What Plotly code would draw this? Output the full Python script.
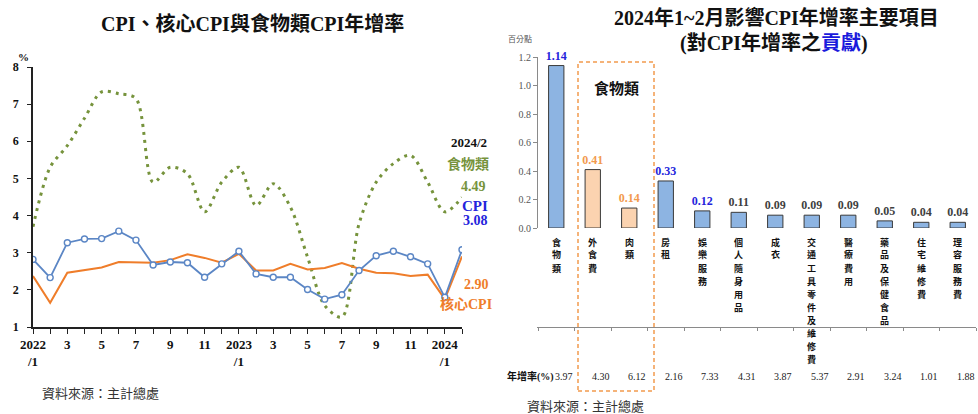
import plotly.graph_objects as go

W, H = 978, 414
SERIF = "Liberation Serif, Noto Sans CJK TC, serif"
CJK = "Noto Sans CJK TC, sans-serif"

# ---------------- Left chart data ----------------
month_idx = list(range(26))  # 2022/1 .. 2024/2
tick_pos = [0, 2, 4, 6, 8, 10, 12, 14, 16, 18, 20, 22, 24]
tick_lbl = ["2022<br>/1", "3", "5", "7", "9", "11", "2023<br>/1", "3", "5", "7", "9", "11", "2024<br>/1"]
cpi = [2.82, 2.33, 3.27, 3.37, 3.38, 3.58, 3.34, 2.67, 2.75, 2.73, 2.34, 2.70,
       3.04, 2.43, 2.34, 2.34, 2.01, 1.75, 1.87, 2.52, 2.92, 3.04, 2.89, 2.70,
       1.80, 3.08]
core = [2.37, 1.65, 2.46, 2.53, 2.60, 2.75, 2.73, 2.73, 2.80, 2.96, 2.86, 2.73,
        2.97, 2.52, 2.52, 2.70, 2.55, 2.59, 2.72, 2.57, 2.46, 2.45, 2.37, 2.41,
        1.75, 2.90]
food = [3.70, 5.30, 5.88, 6.62, 7.33, 7.28, 7.15, 4.90, 5.30, 5.13, 4.10, 4.90,
        5.30, 4.27, 4.86, 4.23, 2.88, 1.58, 1.27, 3.78, 4.90, 5.40, 5.62, 4.90,
        4.10, 4.49]

# ---------------- Right chart data ----------------
items = ["食物類", "外食費", "肉類", "房租", "娛樂服務", "個人隨身用品", "成衣",
         "交通工具零件及維修費", "醫療費用", "藥品及保健食品", "住宅維修費", "理容服務費"]
contrib = [1.14, 0.41, 0.14, 0.33, 0.12, 0.11, 0.09, 0.09, 0.09, 0.05, 0.04, 0.04]
growth = ["3.97", "4.30", "6.12", "2.16", "7.33", "4.31", "3.87", "5.37", "2.91", "3.24", "1.01", "1.88"]
in_food_group = [False, True, True, False, False, False, False, False, False, False, False, False]
label_col = ["#2424DC", "#F29A4E", "#F29A4E", "#2424DC", "#2424DC", "#404040", "#404040",
             "#404040", "#404040", "#404040", "#404040", "#404040"]

BLUE_LINE = "#5B86C5"
ORANGE = "#EF7D2A"
GREEN = "#76933C"
TXT_BLUE = "#2424DC"


def py(px):
    return 1 - px / H


def px_(x):
    return x / W


fig = go.Figure()

fig.add_trace(go.Scatter(x=month_idx, y=food, mode="lines",
                         line=dict(color=GREEN, width=3, dash="3px,5px", shape="spline", smoothing=0.9),
                         xaxis="x", yaxis="y", hoverinfo="skip"))
fig.add_trace(go.Scatter(x=month_idx, y=core, mode="lines",
                         line=dict(color=ORANGE, width=2),
                         xaxis="x", yaxis="y", hoverinfo="skip"))
fig.add_trace(go.Scatter(x=month_idx, y=cpi, mode="lines+markers",
                         line=dict(color=BLUE_LINE, width=1.8),
                         marker=dict(symbol="circle", size=6, color="white",
                                     line=dict(color=BLUE_LINE, width=1.4)),
                         xaxis="x", yaxis="y", hoverinfo="skip"))

bar_fill = ["#FBD3B0" if f else "#8DB4E2" for f in in_food_group]
fig.add_trace(go.Bar(x=items, y=contrib, xaxis="x2", yaxis="y2",
                     marker=dict(color=bar_fill, line=dict(color="#3A3A3A", width=1)),
                     width=0.42,
                     text=[f"{v:.2f}" for v in contrib], textposition="outside",
                     constraintext="none",
                     textfont=dict(family=SERIF, size=12, color=label_col, weight="bold"),
                     cliponaxis=False, hoverinfo="skip"))

fig.update_layout(
    width=W, height=H, margin=dict(l=0, r=0, t=0, b=0, pad=0),
    paper_bgcolor="white", plot_bgcolor="white", showlegend=False,
    xaxis=dict(domain=[px_(33), px_(462)], range=[0, 25], showgrid=False, zeroline=False,
               automargin=False,
               showline=True, linecolor="#222", linewidth=1.5,
               tickmode="array", tickvals=tick_pos, ticktext=tick_lbl,
               ticks="outside", ticklen=5, tickcolor="#222", tickwidth=1.2,
               minor=dict(dtick=1, tick0=0, ticks="outside", ticklen=5, tickcolor="#222", tickwidth=1.2),
               tickfont=dict(family=SERIF, size=13, color="#111", weight="bold")),
    yaxis=dict(domain=[py(327), py(67)], range=[1, 8], dtick=1, showgrid=False, zeroline=False,
               automargin=False,
               showline=True, linecolor="#222", linewidth=1.5,
               ticks="outside", ticklen=4, tickcolor="#222",
               ticklabelstandoff=6,
               tickfont=dict(family=SERIF, size=12, color="#111", weight="bold")),
    xaxis2=dict(domain=[px_(538), px_(976)], range=[-0.5, 11.5], type="category",
                automargin=False,
                showticklabels=False, showgrid=False, zeroline=False,
                showline=True, linecolor="#8A8A8A", linewidth=1,
                ticks="outside", tickson="boundaries", ticklen=3, tickcolor="#8A8A8A"),
    yaxis2=dict(domain=[py(228), py(57)], range=[0, 1.2], dtick=0.2, tickformat=".1f",
                anchor="x2", automargin=False, showgrid=False, zeroline=False,
                showline=True, linecolor="#8A8A8A", linewidth=1,
                ticks="outside", ticklen=4, tickcolor="#8A8A8A",
                tickfont=dict(family=SERIF, size=10, color="#555")),
)

ann = []


def add_text(x, y, text, size, color="#111", bold=True, family=SERIF, xanchor="center", yanchor="middle"):
    ann.append(dict(x=px_(x), y=py(y), xref="paper", yref="paper", text=text, showarrow=False,
                    xanchor=xanchor, yanchor=yanchor,
                    font=dict(family=family, size=size, color=color, weight="bold" if bold else "normal")))


# Left titles / labels
add_text(252, 23, "CPI、核心CPI與食物類CPI年增率", 20)
add_text(23, 57, "%", 11)
add_text(469, 142, "2024/2", 13)
add_text(468, 164, "食物類", 14, GREEN)
add_text(473, 186, "4.49", 14, GREEN)
add_text(475, 206, "CPI", 15, TXT_BLUE)
add_text(475, 220, "3.08", 14, TXT_BLUE)
add_text(476, 284, "2.90", 14, ORANGE)
add_text(466, 304, "核心CPI", 14, ORANGE)
add_text(100, 392, "資料來源：主計總處", 13, "#333", bold=False, family=CJK)

# Right titles / labels
add_text(776, 18, "2024年1~2月影響CPI年增率主要項目", 20)
add_text(774, 43, "(對CPI年增率之<span style='color:#1A1ADC'>貢獻</span>)", 20)
add_text(520, 39, "百分點", 8, "#555", bold=False, family=CJK)
add_text(616, 88, "食物類", 15)
add_text(556, 376, "年增率(%)", 10, xanchor="right")
add_text(585, 405, "資料來源：主計總處", 13, "#333", bold=False, family=CJK)

# vertical (stacked-character) category labels
for i, name in enumerate(items):
    for k, ch in enumerate(name):
        ann.append(dict(x=name, xref="x2", y=py(242 + 13 * k), yref="paper", text=ch,
                        showarrow=False, xanchor="center", yanchor="middle",
                        font=dict(family=CJK, size=9, color="#111", weight="bold")))
    ann.append(dict(x=name, xref="x2", y=py(376), yref="paper", text=growth[i], xshift=8,
                    showarrow=False, xanchor="center", yanchor="middle",
                    font=dict(family=SERIF, size=10, color="#222")))

fig.update_layout(annotations=ann)

fig.add_shape(type="rect", xref="paper", yref="paper",
              x0=px_(578), x1=px_(654), y0=py(391), y1=py(62),
              line=dict(color="#F29A4E", width=1.5, dash="4px,3px"))

fig.write_html("out.html", config={"displayModeBar": False},
               post_script="document.body.style.margin='0';document.body.style.overflow='hidden';")
